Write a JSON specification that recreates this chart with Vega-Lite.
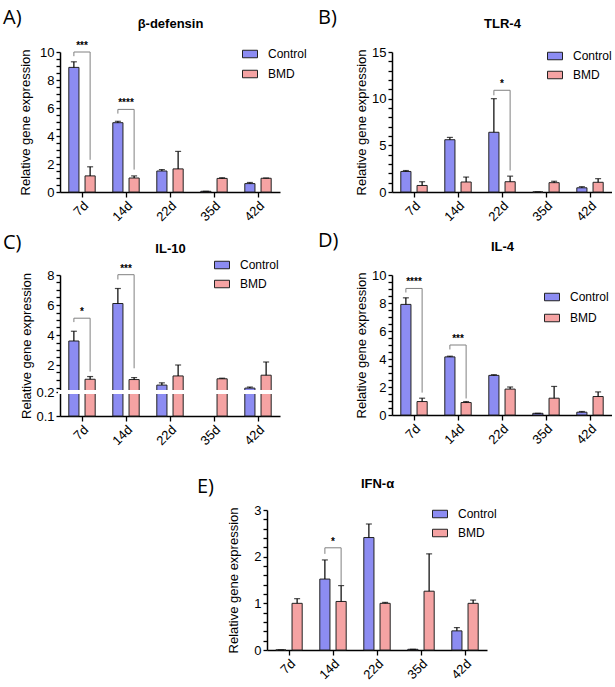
{
"$schema": "https://vega.github.io/schema/vega-lite/v6.json",
"padding": {"left": 3, "top": 8, "right": 0, "bottom": 0},
"config": {
  "font": "Liberation Sans",
  "view": {"stroke": null},
  "axis": {"domainColor": "#000", "domainWidth": 1.5, "tickColor": "#000", "tickWidth": 1.3, "tickSize": 5, "labelFontSize": 13, "labelColor": "#000", "titleFontSize": 13, "titleFontWeight": "normal", "titleColor": "#000", "labelPadding": 2, "grid": false, "labelFont": "Liberation Sans", "titleFont": "Liberation Sans", "labelOverlap": false},
  "axisY": {"tickCount": 100, "tickSize": 4, "titleBaseline": "bottom"},
  "legend": {"labelFont": "Liberation Sans", "labelFontSize": 12},
  "title": {"font": "Open Sans", "fontSize": 20, "fontWeight": "normal", "color": "#000", "anchor": "start", "frame": "group"}
},
"datasets": {
  "bars": [
    {"p":"A","day":"7d","group":"Control","value":8.9,"hi":9.3},
    {"p":"A","day":"7d","group":"BMD","value":1.15,"hi":1.8},
    {"p":"A","day":"14d","group":"Control","value":4.95,"hi":5.05},
    {"p":"A","day":"14d","group":"BMD","value":1.0,"hi":1.15},
    {"p":"A","day":"22d","group":"Control","value":1.5,"hi":1.6},
    {"p":"A","day":"22d","group":"BMD","value":1.65,"hi":2.9},
    {"p":"A","day":"35d","group":"Control","value":0.05,"hi":0.05},
    {"p":"A","day":"35d","group":"BMD","value":0.97,"hi":1.02},
    {"p":"A","day":"42d","group":"Control","value":0.6,"hi":0.68},
    {"p":"A","day":"42d","group":"BMD","value":0.98,"hi":1.0},
    {"p":"B","day":"7d","group":"Control","value":2.2,"hi":2.3},
    {"p":"B","day":"7d","group":"BMD","value":0.7,"hi":1.1},
    {"p":"B","day":"14d","group":"Control","value":5.6,"hi":5.85},
    {"p":"B","day":"14d","group":"BMD","value":1.07,"hi":1.6},
    {"p":"B","day":"22d","group":"Control","value":6.4,"hi":10.0},
    {"p":"B","day":"22d","group":"BMD","value":1.1,"hi":1.7},
    {"p":"B","day":"35d","group":"Control","value":0,"hi":0},
    {"p":"B","day":"35d","group":"BMD","value":1.0,"hi":1.15},
    {"p":"B","day":"42d","group":"Control","value":0.45,"hi":0.57},
    {"p":"B","day":"42d","group":"BMD","value":1.04,"hi":1.43},
    {"p":"C","day":"7d","group":"Control","value":3.6,"hi":4.25},
    {"p":"C","day":"7d","group":"BMD","value":1.05,"hi":1.23},
    {"p":"C","day":"14d","group":"Control","value":6.1,"hi":7.1},
    {"p":"C","day":"14d","group":"BMD","value":1.03,"hi":1.16},
    {"p":"C","day":"22d","group":"Control","value":0.66,"hi":0.81},
    {"p":"C","day":"22d","group":"BMD","value":1.27,"hi":2.0},
    {"p":"C","day":"35d","group":"Control","value":0,"hi":0},
    {"p":"C","day":"35d","group":"BMD","value":1.08,"hi":1.12},
    {"p":"C","day":"42d","group":"Control","value":0.46,"hi":0.53},
    {"p":"C","day":"42d","group":"BMD","value":1.32,"hi":2.2},
    {"p":"D","day":"7d","group":"Control","value":7.9,"hi":8.37},
    {"p":"D","day":"7d","group":"BMD","value":0.96,"hi":1.2},
    {"p":"D","day":"14d","group":"Control","value":4.15,"hi":4.2},
    {"p":"D","day":"14d","group":"BMD","value":0.89,"hi":0.96},
    {"p":"D","day":"22d","group":"Control","value":2.83,"hi":2.88},
    {"p":"D","day":"22d","group":"BMD","value":1.85,"hi":2.0},
    {"p":"D","day":"35d","group":"Control","value":0.12,"hi":0.12},
    {"p":"D","day":"35d","group":"BMD","value":1.2,"hi":2.04},
    {"p":"D","day":"42d","group":"Control","value":0.2,"hi":0.25},
    {"p":"D","day":"42d","group":"BMD","value":1.32,"hi":1.65},
    {"p":"E","day":"7d","group":"Control","value":0,"hi":0},
    {"p":"E","day":"7d","group":"BMD","value":1.0,"hi":1.1},
    {"p":"E","day":"14d","group":"Control","value":1.52,"hi":1.93},
    {"p":"E","day":"14d","group":"BMD","value":1.04,"hi":1.38},
    {"p":"E","day":"22d","group":"Control","value":2.41,"hi":2.7},
    {"p":"E","day":"22d","group":"BMD","value":1.0,"hi":1.02},
    {"p":"E","day":"35d","group":"Control","value":0.015,"hi":0.015},
    {"p":"E","day":"35d","group":"BMD","value":1.26,"hi":2.06},
    {"p":"E","day":"42d","group":"Control","value":0.41,"hi":0.48},
    {"p":"E","day":"42d","group":"BMD","value":1.0,"hi":1.07}
  ],
  "brackets": [
    {"p":"A","id":"A7","day":"7d","group":"Control","seq":1,"y":9.7},
    {"p":"A","id":"A7","day":"7d","group":"Control","seq":2,"y":10.0},
    {"p":"A","id":"A7","day":"7d","group":"BMD","seq":3,"y":10.0},
    {"p":"A","id":"A7","day":"7d","group":"BMD","seq":4,"y":2.3},
    {"p":"A","id":"A14","day":"14d","group":"Control","seq":1,"y":5.6},
    {"p":"A","id":"A14","day":"14d","group":"Control","seq":2,"y":5.9},
    {"p":"A","id":"A14","day":"14d","group":"BMD","seq":3,"y":5.9},
    {"p":"A","id":"A14","day":"14d","group":"BMD","seq":4,"y":1.6},
    {"p":"B","id":"B22","day":"22d","group":"Control","seq":1,"y":10.36},
    {"p":"B","id":"B22","day":"22d","group":"Control","seq":2,"y":10.9},
    {"p":"B","id":"B22","day":"22d","group":"BMD","seq":3,"y":10.9},
    {"p":"B","id":"B22","day":"22d","group":"BMD","seq":4,"y":2.3},
    {"p":"C","id":"C7","day":"7d","group":"Control","seq":1,"y":4.86},
    {"p":"C","id":"C7","day":"7d","group":"Control","seq":2,"y":5.12},
    {"p":"C","id":"C7","day":"7d","group":"BMD","seq":3,"y":5.12},
    {"p":"C","id":"C7","day":"7d","group":"BMD","seq":4,"y":1.56},
    {"p":"C","id":"C14","day":"14d","group":"Control","seq":1,"y":7.7},
    {"p":"C","id":"C14","day":"14d","group":"Control","seq":2,"y":8.02},
    {"p":"C","id":"C14","day":"14d","group":"BMD","seq":3,"y":8.02},
    {"p":"C","id":"C14","day":"14d","group":"BMD","seq":4,"y":1.78},
    {"p":"D","id":"D7","day":"7d","group":"Control","seq":1,"y":8.75},
    {"p":"D","id":"D7","day":"7d","group":"Control","seq":2,"y":9.04},
    {"p":"D","id":"D7","day":"7d","group":"BMD","seq":3,"y":9.04},
    {"p":"D","id":"D7","day":"7d","group":"BMD","seq":4,"y":1.6},
    {"p":"D","id":"D14","day":"14d","group":"Control","seq":1,"y":4.68},
    {"p":"D","id":"D14","day":"14d","group":"Control","seq":2,"y":5.0},
    {"p":"D","id":"D14","day":"14d","group":"BMD","seq":3,"y":5.0},
    {"p":"D","id":"D14","day":"14d","group":"BMD","seq":4,"y":1.18},
    {"p":"E","id":"E14","day":"14d","group":"Control","seq":1,"y":2.06},
    {"p":"E","id":"E14","day":"14d","group":"Control","seq":2,"y":2.19},
    {"p":"E","id":"E14","day":"14d","group":"BMD","seq":3,"y":2.19},
    {"p":"E","id":"E14","day":"14d","group":"BMD","seq":4,"y":1.39}
  ],
  "stars": [
    {"p":"A","day":"7d","y":10.0,"s":"***"},
    {"p":"A","day":"14d","y":5.9,"s":"****"},
    {"p":"B","day":"22d","y":10.9,"s":"*"},
    {"p":"C","day":"7d","y":5.12,"s":"*"},
    {"p":"C","day":"14d","y":8.02,"s":"***"},
    {"p":"D","day":"7d","y":9.04,"s":"****"},
    {"p":"D","day":"14d","y":5.0,"s":"***"},
    {"p":"E","day":"14d","y":2.19,"s":"*"}
  ]
},
"spacing": 29,
"resolve": {"scale": {"color": "independent"}, "legend": {"color": "independent"}},
"vconcat": [
 {
  "spacing": 7,
  "resolve": {"scale": {"color": "independent"}, "legend": {"color": "independent"}},
  "vconcat": [
   {
    "bounds": "flush",
    "spacing": 112,
    "resolve": {"scale": {"color": "independent"}, "legend": {"color": "independent"}},
    "hconcat": [
     {
      "title": {"text": "A)", "dx": -57, "dy": 15},
      "width": 220, "height": 140,
      "resolve": {"axis": {"x": "independent"}},
      "layer": [
       {"data": {"name": "bars"}, "transform": [{"filter": "datum.p === 'A'"}],
        "mark": {"type": "bar", "stroke": "#222", "strokeWidth": 1},
        "encoding": {
         "x": {"field": "day", "type": "nominal", "scale": {"domain": ["7d","14d","22d","35d","42d"], "paddingInner": 0.4, "paddingOuter": 0.2}, "axis": {"labelAngle": -45, "title": null}},
         "xOffset": {"field": "group", "type": "nominal", "scale": {"domain": ["Control","BMD"], "paddingInner": 0.375, "paddingOuter": 0}},
         "y": {"field": "value", "type": "quantitative", "scale": {"domain": [0,10], "nice": false}, "axis": {"values": [0,0.5,1,1.5,2,2.5,3,3.5,4,4.5,5,5.5,6,6.5,7,7.5,8,8.5,9,9.5,10], "format": "~g", "labelExpr": "datum.value % 2 === 0 ? datum.label : ''", "tickCount": 100, "labelOverlap": false, "title": "Relative gene expression", "titleX": -28}},
         "color": {"field": "group", "type": "nominal", "scale": {"domain": ["Control","BMD"], "range": ["#8c8cf2","#f5a3a3"]}, "legend": {"orient": "none", "legendX": 182, "legendY": -6, "title": null, "symbolType": "M-1,-0.5H1V0.5H-1Z", "symbolSize": 225, "symbolStrokeColor": "#222", "symbolStrokeWidth": 1, "labelOffset": 10, "rowPadding": 6, "padding": 0, "symbolOpacity": 1}}
        }},
       {"data": {"name": "bars"}, "transform": [{"filter": "datum.p === 'A'"}],
        "mark": {"type": "rule", "color": "#000", "strokeWidth": 1.2},
        "encoding": {
         "x": {"field": "day", "type": "nominal", "scale": {"domain": ["7d","14d","22d","35d","42d"]}, "axis": null},
         "xOffset": {"field": "group", "type": "nominal", "scale": {"domain": ["Control","BMD"]}},
         "y": {"field": "value", "type": "quantitative", "scale": {"domain": [0,10], "nice": false}},
         "y2": {"field": "hi"}
        }},
       {"data": {"name": "bars"}, "transform": [{"filter": "datum.p === 'A'"}],
        "mark": {"type": "tick", "color": "#000", "thickness": 1.2, "size": 6},
        "encoding": {
         "x": {"field": "day", "type": "nominal", "scale": {"domain": ["7d","14d","22d","35d","42d"]}, "axis": null},
         "xOffset": {"field": "group", "type": "nominal", "scale": {"domain": ["Control","BMD"]}},
         "y": {"field": "hi", "type": "quantitative", "scale": {"domain": [0,10], "nice": false}}
        }},
       {"data": {"name": "brackets"}, "transform": [{"filter": "datum.p === 'A'"}],
        "mark": {"type": "line", "color": "#808080", "strokeWidth": 1},
        "encoding": {
         "x": {"field": "day", "type": "nominal", "scale": {"domain": ["7d","14d","22d","35d","42d"]}, "axis": null},
         "xOffset": {"field": "group", "type": "nominal", "scale": {"domain": ["Control","BMD"]}},
         "y": {"field": "y", "type": "quantitative", "scale": {"domain": [0,10], "nice": false}},
         "detail": {"field": "id"},
         "order": {"field": "seq"}
        }},
       {"data": {"name": "stars"}, "transform": [{"filter": "datum.p === 'A'"}],
        "mark": {"type": "text", "fontSize": 10, "fontWeight": "bold", "baseline": "bottom", "dy": -1},
        "encoding": {
         "x": {"field": "day", "type": "nominal", "scale": {"domain": ["7d","14d","22d","35d","42d"]}, "axis": {"orient": "top", "labels": false, "ticks": false, "domain": false, "title": "β-defensin", "titleFontWeight": "bold", "titlePadding": 22}},
         "y": {"field": "y", "type": "quantitative", "scale": {"domain": [0,10], "nice": false}},
         "text": {"field": "s"}
        }}
      ]
     },
     {
      "title": {"text": "B)", "dx": -74, "dy": 15},
      "width": 220, "height": 140,
      "resolve": {"axis": {"x": "independent"}},
      "layer": [
       {"data": {"name": "bars"}, "transform": [{"filter": "datum.p === 'B'"}],
        "mark": {"type": "bar", "stroke": "#222", "strokeWidth": 1},
        "encoding": {
         "x": {"field": "day", "type": "nominal", "scale": {"domain": ["7d","14d","22d","35d","42d"], "paddingInner": 0.4, "paddingOuter": 0.2}, "axis": {"labelAngle": -45, "title": null}},
         "xOffset": {"field": "group", "type": "nominal", "scale": {"domain": ["Control","BMD"], "paddingInner": 0.375, "paddingOuter": 0}},
         "y": {"field": "value", "type": "quantitative", "scale": {"domain": [0,15], "nice": false}, "axis": {"values": [0,1,2,3,4,5,6,7,8,9,10,11,12,13,14,15], "format": "~g", "labelExpr": "datum.value % 5 === 0 ? datum.label : ''", "tickCount": 100, "labelOverlap": false, "title": "Relative gene expression", "titleX": -24}},
         "color": {"field": "group", "type": "nominal", "scale": {"domain": ["Control","BMD"], "range": ["#8c8cf2","#f5a3a3"]}, "legend": {"orient": "none", "legendX": 155, "legendY": -4, "title": null, "symbolType": "M-1,-0.5H1V0.5H-1Z", "symbolSize": 225, "symbolStrokeColor": "#222", "symbolStrokeWidth": 1, "labelOffset": 10, "rowPadding": 5, "padding": 0, "symbolOpacity": 1}}
        }},
       {"data": {"name": "bars"}, "transform": [{"filter": "datum.p === 'B'"}],
        "mark": {"type": "rule", "color": "#000", "strokeWidth": 1.2},
        "encoding": {
         "x": {"field": "day", "type": "nominal", "scale": {"domain": ["7d","14d","22d","35d","42d"]}, "axis": null},
         "xOffset": {"field": "group", "type": "nominal", "scale": {"domain": ["Control","BMD"]}},
         "y": {"field": "value", "type": "quantitative", "scale": {"domain": [0,15], "nice": false}},
         "y2": {"field": "hi"}
        }},
       {"data": {"name": "bars"}, "transform": [{"filter": "datum.p === 'B'"}],
        "mark": {"type": "tick", "color": "#000", "thickness": 1.2, "size": 6},
        "encoding": {
         "x": {"field": "day", "type": "nominal", "scale": {"domain": ["7d","14d","22d","35d","42d"]}, "axis": null},
         "xOffset": {"field": "group", "type": "nominal", "scale": {"domain": ["Control","BMD"]}},
         "y": {"field": "hi", "type": "quantitative", "scale": {"domain": [0,15], "nice": false}}
        }},
       {"data": {"name": "brackets"}, "transform": [{"filter": "datum.p === 'B'"}],
        "mark": {"type": "line", "color": "#808080", "strokeWidth": 1},
        "encoding": {
         "x": {"field": "day", "type": "nominal", "scale": {"domain": ["7d","14d","22d","35d","42d"]}, "axis": null},
         "xOffset": {"field": "group", "type": "nominal", "scale": {"domain": ["Control","BMD"]}},
         "y": {"field": "y", "type": "quantitative", "scale": {"domain": [0,15], "nice": false}},
         "detail": {"field": "id"},
         "order": {"field": "seq"}
        }},
       {"data": {"name": "stars"}, "transform": [{"filter": "datum.p === 'B'"}],
        "mark": {"type": "text", "fontSize": 10, "fontWeight": "bold", "baseline": "bottom", "dy": -1},
        "encoding": {
         "x": {"field": "day", "type": "nominal", "scale": {"domain": ["7d","14d","22d","35d","42d"]}, "axis": {"orient": "top", "labels": false, "ticks": false, "domain": false, "title": "TLR-4", "titleFontWeight": "bold", "titlePadding": 22}},
         "y": {"field": "y", "type": "quantitative", "scale": {"domain": [0,15], "nice": false}},
         "text": {"field": "s"}
        }}
      ]
     }
    ]
   },
   {
    "bounds": "flush",
    "spacing": 112,
    "resolve": {"scale": {"color": "independent"}, "legend": {"color": "independent"}},
    "hconcat": [
     {
      "title": {"text": "C)", "dx": -57, "dy": 15},
      "width": 220, "height": 141,
      "resolve": {"axis": {"x": "independent"}},
      "layer": [
       {"data": {"name": "bars"}, "transform": [{"filter": "datum.p === 'C' && datum.value > 0"}],
        "mark": {"type": "bar", "stroke": "#222", "strokeWidth": 1},
        "encoding": {
         "x": {"field": "day", "type": "nominal", "scale": {"domain": ["7d","14d","22d","35d","42d"], "paddingInner": 0.4, "paddingOuter": 0.2}, "axis": {"labelAngle": -45, "title": null}},
         "xOffset": {"field": "group", "type": "nominal", "scale": {"domain": ["Control","BMD"], "paddingInner": 0.375, "paddingOuter": 0}},
         "y": {"field": "value", "type": "quantitative", "scale": {"domain": [0.1,0.2,8], "range": [141,117,0], "nice": false, "zero": false}, "axis": {"values": [0.1,0.2,0.5,1,1.5,2,2.5,3,3.5,4,4.5,5,5.5,6,6.5,7,7.5,8], "format": "~g", "labelExpr": "(datum.value < 0.3 || datum.value % 2 === 0) ? datum.label : ''", "tickCount": 100, "labelOverlap": false, "title": "Relative gene expression", "titleX": -27}},
         "y2": {"datum": 0.1},
         "color": {"field": "group", "type": "nominal", "scale": {"domain": ["Control","BMD"], "range": ["#8c8cf2","#f5a3a3"]}, "legend": {"orient": "none", "legendX": 154, "legendY": -18, "title": null, "symbolType": "M-1,-0.5H1V0.5H-1Z", "symbolSize": 225, "symbolStrokeColor": "#222", "symbolStrokeWidth": 1, "labelOffset": 10, "rowPadding": 5, "padding": 0, "symbolOpacity": 1}}
        }},
       {"data": {"name": "bars"}, "transform": [{"filter": "datum.p === 'C' && datum.value > 0"}],
        "mark": {"type": "rule", "color": "#000", "strokeWidth": 1.2},
        "encoding": {
         "x": {"field": "day", "type": "nominal", "scale": {"domain": ["7d","14d","22d","35d","42d"]}, "axis": null},
         "xOffset": {"field": "group", "type": "nominal", "scale": {"domain": ["Control","BMD"]}},
         "y": {"field": "value", "type": "quantitative", "scale": {"domain": [0.1,0.2,8], "range": [141,117,0], "nice": false, "zero": false}},
         "y2": {"field": "hi"}
        }},
       {"data": {"name": "bars"}, "transform": [{"filter": "datum.p === 'C' && datum.value > 0"}],
        "mark": {"type": "tick", "color": "#000", "thickness": 1.2, "size": 6},
        "encoding": {
         "x": {"field": "day", "type": "nominal", "scale": {"domain": ["7d","14d","22d","35d","42d"]}, "axis": null},
         "xOffset": {"field": "group", "type": "nominal", "scale": {"domain": ["Control","BMD"]}},
         "y": {"field": "hi", "type": "quantitative", "scale": {"domain": [0.1,0.2,8], "range": [141,117,0], "nice": false, "zero": false}}
        }},
       {"data": {"values": [{"gap": 0.2}]},
        "mark": {"type": "rule", "color": "#ffffff", "strokeWidth": 4, "strokeCap": "square"},
        "encoding": {
         "y": {"field": "gap", "type": "quantitative", "scale": {"domain": [0.1,0.2,8], "range": [141,117,0], "nice": false, "zero": false}}
        }},
       {"data": {"name": "brackets"}, "transform": [{"filter": "datum.p === 'C'"}],
        "mark": {"type": "line", "color": "#808080", "strokeWidth": 1},
        "encoding": {
         "x": {"field": "day", "type": "nominal", "scale": {"domain": ["7d","14d","22d","35d","42d"]}, "axis": null},
         "xOffset": {"field": "group", "type": "nominal", "scale": {"domain": ["Control","BMD"]}},
         "y": {"field": "y", "type": "quantitative", "scale": {"domain": [0.1,0.2,8], "range": [141,117,0], "nice": false, "zero": false}},
         "detail": {"field": "id"},
         "order": {"field": "seq"}
        }},
       {"data": {"name": "stars"}, "transform": [{"filter": "datum.p === 'C'"}],
        "mark": {"type": "text", "fontSize": 10, "fontWeight": "bold", "baseline": "bottom", "dy": -1},
        "encoding": {
         "x": {"field": "day", "type": "nominal", "scale": {"domain": ["7d","14d","22d","35d","42d"]}, "axis": {"orient": "top", "labels": false, "ticks": false, "domain": false, "title": "IL-10", "titleFontWeight": "bold", "titlePadding": 20}},
         "y": {"field": "y", "type": "quantitative", "scale": {"domain": [0.1,0.2,8], "range": [141,117,0], "nice": false, "zero": false}},
         "text": {"field": "s"}
        }}
      ]
     },
     {
      "title": {"text": "D)", "dx": -74, "dy": 15},
      "width": 220, "height": 140,
      "resolve": {"axis": {"x": "independent"}},
      "layer": [
       {"data": {"name": "bars"}, "transform": [{"filter": "datum.p === 'D'"}],
        "mark": {"type": "bar", "stroke": "#222", "strokeWidth": 1},
        "encoding": {
         "x": {"field": "day", "type": "nominal", "scale": {"domain": ["7d","14d","22d","35d","42d"], "paddingInner": 0.4, "paddingOuter": 0.2}, "axis": {"labelAngle": -45, "title": null}},
         "xOffset": {"field": "group", "type": "nominal", "scale": {"domain": ["Control","BMD"], "paddingInner": 0.375, "paddingOuter": 0}},
         "y": {"field": "value", "type": "quantitative", "scale": {"domain": [0,10], "nice": false}, "axis": {"values": [0,0.5,1,1.5,2,2.5,3,3.5,4,4.5,5,5.5,6,6.5,7,7.5,8,8.5,9,9.5,10], "format": "~g", "labelExpr": "datum.value % 2 === 0 ? datum.label : ''", "tickCount": 100, "labelOverlap": false, "title": "Relative gene expression", "titleX": -24}},
         "color": {"field": "group", "type": "nominal", "scale": {"domain": ["Control","BMD"], "range": ["#8c8cf2","#f5a3a3"]}, "legend": {"orient": "none", "legendX": 152, "legendY": 14, "title": null, "symbolType": "M-1,-0.5H1V0.5H-1Z", "symbolSize": 225, "symbolStrokeColor": "#222", "symbolStrokeWidth": 1, "labelOffset": 10, "rowPadding": 7, "padding": 0, "symbolOpacity": 1}}
        }},
       {"data": {"name": "bars"}, "transform": [{"filter": "datum.p === 'D'"}],
        "mark": {"type": "rule", "color": "#000", "strokeWidth": 1.2},
        "encoding": {
         "x": {"field": "day", "type": "nominal", "scale": {"domain": ["7d","14d","22d","35d","42d"]}, "axis": null},
         "xOffset": {"field": "group", "type": "nominal", "scale": {"domain": ["Control","BMD"]}},
         "y": {"field": "value", "type": "quantitative", "scale": {"domain": [0,10], "nice": false}},
         "y2": {"field": "hi"}
        }},
       {"data": {"name": "bars"}, "transform": [{"filter": "datum.p === 'D'"}],
        "mark": {"type": "tick", "color": "#000", "thickness": 1.2, "size": 6},
        "encoding": {
         "x": {"field": "day", "type": "nominal", "scale": {"domain": ["7d","14d","22d","35d","42d"]}, "axis": null},
         "xOffset": {"field": "group", "type": "nominal", "scale": {"domain": ["Control","BMD"]}},
         "y": {"field": "hi", "type": "quantitative", "scale": {"domain": [0,10], "nice": false}}
        }},
       {"data": {"name": "brackets"}, "transform": [{"filter": "datum.p === 'D'"}],
        "mark": {"type": "line", "color": "#808080", "strokeWidth": 1},
        "encoding": {
         "x": {"field": "day", "type": "nominal", "scale": {"domain": ["7d","14d","22d","35d","42d"]}, "axis": null},
         "xOffset": {"field": "group", "type": "nominal", "scale": {"domain": ["Control","BMD"]}},
         "y": {"field": "y", "type": "quantitative", "scale": {"domain": [0,10], "nice": false}},
         "detail": {"field": "id"},
         "order": {"field": "seq"}
        }},
       {"data": {"name": "stars"}, "transform": [{"filter": "datum.p === 'D'"}],
        "mark": {"type": "text", "fontSize": 10, "fontWeight": "bold", "baseline": "bottom", "dy": -1},
        "encoding": {
         "x": {"field": "day", "type": "nominal", "scale": {"domain": ["7d","14d","22d","35d","42d"]}, "axis": {"orient": "top", "labels": false, "ticks": false, "domain": false, "title": "IL-4", "titleFontWeight": "bold", "titlePadding": 22}},
         "y": {"field": "y", "type": "quantitative", "scale": {"domain": [0,10], "nice": false}},
         "text": {"field": "s"}
        }}
      ]
     }
    ]
   }
  ]
 },
 {
  "bounds": "flush",
  "spacing": 206,
  "resolve": {"scale": {"color": "independent"}, "legend": {"color": "independent"}},
  "hconcat": [
   {"width": 1, "height": 1, "data": {"values": [{}]}, "mark": {"type": "point", "opacity": 0}, "encoding": {}},
   {
    "title": {"text": "E)", "dx": -70, "dy": 24},
    "width": 220, "height": 140,
    "resolve": {"axis": {"x": "independent"}},
    "layer": [
     {"data": {"name": "bars"}, "transform": [{"filter": "datum.p === 'E'"}],
      "mark": {"type": "bar", "stroke": "#222", "strokeWidth": 1},
      "encoding": {
       "x": {"field": "day", "type": "nominal", "scale": {"domain": ["7d","14d","22d","35d","42d"], "paddingInner": 0.4, "paddingOuter": 0.2}, "axis": {"labelAngle": -45, "title": null}},
       "xOffset": {"field": "group", "type": "nominal", "scale": {"domain": ["Control","BMD"], "paddingInner": 0.375, "paddingOuter": 0}},
       "y": {"field": "value", "type": "quantitative", "scale": {"domain": [0,3], "nice": false}, "axis": {"values": [0,0.2,0.4,0.6,0.8,1,1.2,1.4,1.6,1.8,2,2.2,2.4,2.6,2.8,3], "format": "~g", "labelExpr": "datum.value % 1 === 0 ? datum.label : ''", "tickCount": 100, "labelOverlap": false, "title": "Relative gene expression", "titleX": -27}},
       "color": {"field": "group", "type": "nominal", "scale": {"domain": ["Control","BMD"], "range": ["#8c8cf2","#f5a3a3"]}, "legend": {"orient": "none", "legendX": 165, "legendY": -4, "title": null, "symbolType": "M-1,-0.5H1V0.5H-1Z", "symbolSize": 225, "symbolStrokeColor": "#222", "symbolStrokeWidth": 1, "labelOffset": 10, "rowPadding": 5, "padding": 0, "symbolOpacity": 1}}
      }},
     {"data": {"name": "bars"}, "transform": [{"filter": "datum.p === 'E'"}],
      "mark": {"type": "rule", "color": "#000", "strokeWidth": 1.2},
      "encoding": {
       "x": {"field": "day", "type": "nominal", "scale": {"domain": ["7d","14d","22d","35d","42d"]}, "axis": null},
       "xOffset": {"field": "group", "type": "nominal", "scale": {"domain": ["Control","BMD"]}},
       "y": {"field": "value", "type": "quantitative", "scale": {"domain": [0,3], "nice": false}},
       "y2": {"field": "hi"}
      }},
     {"data": {"name": "bars"}, "transform": [{"filter": "datum.p === 'E'"}],
      "mark": {"type": "tick", "color": "#000", "thickness": 1.2, "size": 6},
      "encoding": {
       "x": {"field": "day", "type": "nominal", "scale": {"domain": ["7d","14d","22d","35d","42d"]}, "axis": null},
       "xOffset": {"field": "group", "type": "nominal", "scale": {"domain": ["Control","BMD"]}},
       "y": {"field": "hi", "type": "quantitative", "scale": {"domain": [0,3], "nice": false}}
      }},
     {"data": {"name": "brackets"}, "transform": [{"filter": "datum.p === 'E'"}],
      "mark": {"type": "line", "color": "#808080", "strokeWidth": 1},
      "encoding": {
       "x": {"field": "day", "type": "nominal", "scale": {"domain": ["7d","14d","22d","35d","42d"]}, "axis": null},
       "xOffset": {"field": "group", "type": "nominal", "scale": {"domain": ["Control","BMD"]}},
       "y": {"field": "y", "type": "quantitative", "scale": {"domain": [0,3], "nice": false}},
       "detail": {"field": "id"},
       "order": {"field": "seq"}
      }},
     {"data": {"name": "stars"}, "transform": [{"filter": "datum.p === 'E'"}],
      "mark": {"type": "text", "fontSize": 10, "fontWeight": "bold", "baseline": "bottom", "dy": -1},
      "encoding": {
       "x": {"field": "day", "type": "nominal", "scale": {"domain": ["7d","14d","22d","35d","42d"]}, "axis": {"orient": "top", "labels": false, "ticks": false, "domain": false, "title": "IFN-α", "titleFontWeight": "bold", "titlePadding": 20}},
       "y": {"field": "y", "type": "quantitative", "scale": {"domain": [0,3], "nice": false}},
       "text": {"field": "s"}
      }}
    ]
   }
  ]
 }
]
}
